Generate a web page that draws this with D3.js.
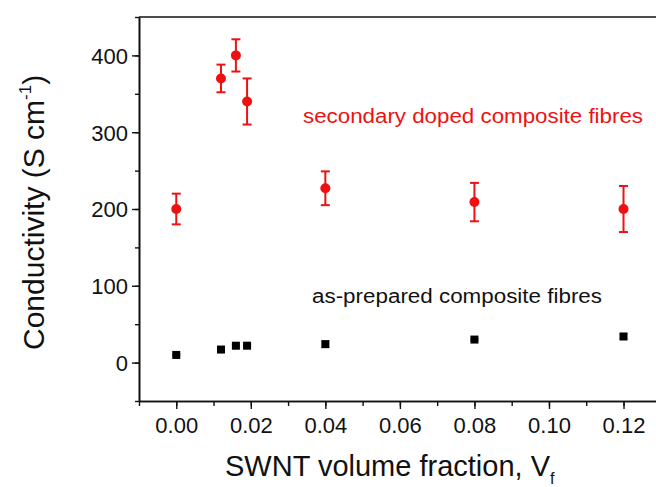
<!DOCTYPE html>
<html><head><meta charset="utf-8">
<script src="https://cdn.jsdelivr.net/npm/d3@7"></script>
<style>body{margin:0;background:#fff}svg{display:block;font-family:"Liberation Sans",Arial,sans-serif}</style>
</head><body><svg id="c" width="656" height="487"></svg>
<script>
const xValues = [0.000, 0.012, 0.016, 0.019, 0.040, 0.080, 0.120];
const dopedValues = [200, 370, 400, 340, 227, 209, 200];
const dopedErrors = [20, 18, 21, 30, 22, 25, 30];
const preparedValues = [10, 17, 22, 22, 24, 30, 34];
const preparedErrors = [1, 1, 1, 1, 4, 1, 3];
const xTicks = [0.00, 0.02, 0.04, 0.06, 0.08, 0.10, 0.12];
const yTicks = [0, 100, 200, 300, 400];

const svg = d3.select("#c");
const L = 139, T = 17, B = 401;
const x = d3.scaleLinear().domain([-0.01, 0.13]).range([L, L + 14 * 37.27]);
const y = d3.scaleLinear().domain([-50, 450]).range([B, T]);

// minor ticks
const xMinor = d3.range(-0.01, 0.1301, 0.01).map(v => +v.toFixed(3));
const yMinor = d3.range(-50, 451, 50);

const xAxis = svg.append("g").attr("transform", `translate(0,${B})`)
  .call(d3.axisBottom(x).tickValues(xTicks).tickFormat(d3.format(".2f")).tickSize(8).tickSizeOuter(0));
svg.append("g").attr("transform", `translate(0,${B})`)
  .call(d3.axisBottom(x).tickValues(xMinor).tickFormat("").tickSize(5).tickSizeOuter(0));
const yAxis = svg.append("g").attr("transform", `translate(${L},0)`)
  .call(d3.axisLeft(y).tickValues(yTicks).tickSize(7).tickSizeOuter(0));
svg.append("g").attr("transform", `translate(${L},0)`)
  .call(d3.axisLeft(y).tickValues(yMinor).tickFormat("").tickSize(4).tickSizeOuter(0));
svg.selectAll(".domain").attr("stroke", "#111").attr("stroke-width", 1.6);
svg.selectAll(".tick line").attr("stroke", "#111").attr("stroke-width", 1.4);
xAxis.selectAll("text").attr("font-size", 22).attr("fill", "#111").attr("dy", null).attr("y", 32);
yAxis.selectAll("text").attr("font-size", 22).attr("fill", "#111").attr("x", -11).attr("dy", "0.36em");
// top frame line
svg.append("line").attr("x1", L).attr("x2", x(0.13)).attr("y1", y(450)).attr("y2", y(450))
  .attr("stroke", "#111").attr("stroke-width", 1.6);

// axis titles
const xt = svg.append("text").attr("x", 225).attr("y", 476).attr("font-size", 29).attr("fill", "#111");
xt.append("tspan").text("SWNT volume fraction, V");
xt.append("tspan").attr("font-size", 16).attr("dy", 8).text("f");
const yt = svg.append("text").attr("transform", "translate(44,350) rotate(-90)").attr("font-size", 30).attr("fill", "#111");
yt.append("tspan").text("Conductivity (S cm");
yt.append("tspan").attr("font-size", 17).attr("dy", -13).text("-1");
yt.append("tspan").attr("dy", 13).text(")");

// red error bars
const red = "#ee1111";
const ge = svg.append("g").attr("stroke", red).attr("stroke-width", 2);
xValues.forEach((xv, i) => {
  const cx = x(xv), y1 = y(dopedValues[i] + dopedErrors[i]), y2 = y(dopedValues[i] - dopedErrors[i]);
  ge.append("line").attr("x1", cx).attr("x2", cx).attr("y1", y1).attr("y2", y2);
  ge.append("line").attr("x1", cx - 4.5).attr("x2", cx + 4.5).attr("y1", y1).attr("y2", y1);
  ge.append("line").attr("x1", cx - 4.5).attr("x2", cx + 4.5).attr("y1", y2).attr("y2", y2);
});
svg.append("g").selectAll("circle").data(xValues).join("circle")
  .attr("cx", d => x(d)).attr("cy", (d, i) => y(dopedValues[i])).attr("r", 5).attr("fill", red);

// black error bars + squares
const gb = svg.append("g").attr("stroke", "#666").attr("stroke-width", 1.2);
xValues.forEach((xv, i) => {
  const cx = x(xv), y1 = y(preparedValues[i] + preparedErrors[i]), y2 = y(preparedValues[i] - preparedErrors[i]);
  gb.append("line").attr("x1", cx - 4).attr("x2", cx + 4).attr("y1", y1).attr("y2", y1);
  gb.append("line").attr("x1", cx - 4).attr("x2", cx + 4).attr("y1", y2).attr("y2", y2);
});
svg.append("g").selectAll("rect").data(xValues).join("rect")
  .attr("x", d => x(d) - 4).attr("y", (d, i) => y(preparedValues[i]) - 4)
  .attr("width", 8).attr("height", 8).attr("fill", "#000");

// annotations
svg.append("text").attr("x", 303).attr("y", 123).attr("font-size", 20).attr("fill", red)
  .attr("textLength", 340).attr("lengthAdjust", "spacingAndGlyphs").text("secondary doped composite fibres");
svg.append("text").attr("x", 312).attr("y", 303).attr("font-size", 20).attr("fill", "#111")
  .attr("textLength", 290).attr("lengthAdjust", "spacingAndGlyphs").text("as-prepared composite fibres");
</script></body></html>
